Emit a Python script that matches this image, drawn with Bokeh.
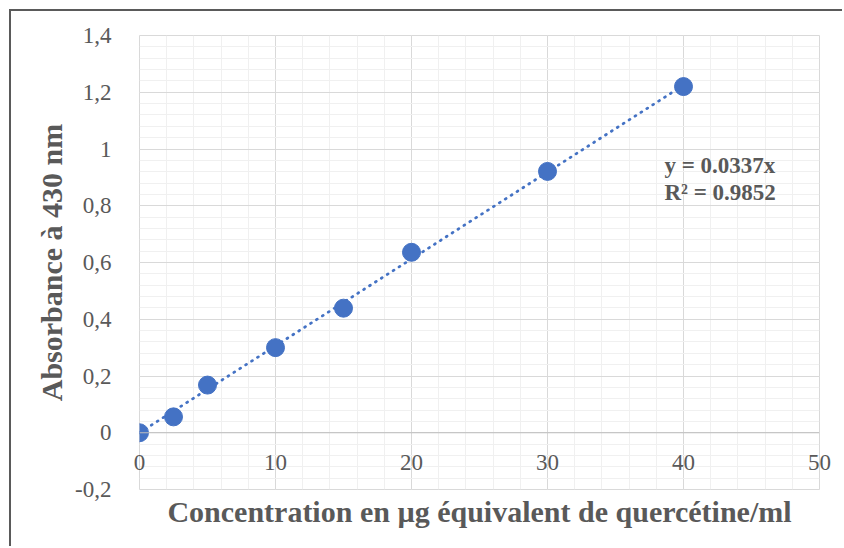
from bokeh.plotting import figure
from bokeh.models import (Range1d, FixedTicker, CustomJSTickFormatter,
                          Label, ColumnDataSource, Span)
from bokeh.embed import file_html
from bokeh.resources import INLINE

# ---- data ----
concentration = [0, 2.5, 5, 10, 15, 20, 30, 40]
absorbance = [0.0, 0.056, 0.168, 0.300, 0.439, 0.636, 0.921, 1.220]
x_ticks = [0, 10, 20, 30, 40, 50]
y_ticks = [-0.2, 0.0, 0.2, 0.4, 0.6, 0.8, 1.0, 1.2, 1.4]
equation_text = "y = 0.0337x"
r2_text = "R² = 0.9852"
x_title = "Concentration en µg équivalent de quercétine/ml"
y_title = "Absorbance à 430 nm"

# least squares fit through origin (trendline)
slope = sum(x * y for x, y in zip(concentration, absorbance)) / sum(x * x for x in concentration)
trend_x = [min(concentration), max(concentration)]
trend_y = [slope * v for v in trend_x]

# minor grid positions (5 subdivisions between major ticks)
x_minor = [x_ticks[0] + i * (x_ticks[1] - x_ticks[0]) / 5 for i in range(5 * (len(x_ticks) - 1) + 1)]
y_minor = [round(y_ticks[0] + i * (y_ticks[1] - y_ticks[0]) / 5, 4) for i in range(5 * (len(y_ticks) - 1) + 1)]

FONT = "Liberation Serif"
TXT = "#595959"
BLUE = "#4472C4"

p = figure(width=833, height=537, output_backend="svg", toolbar_location=None,
           x_range=Range1d(x_ticks[0], x_ticks[-1]), y_range=Range1d(y_ticks[0], y_ticks[-1]),
           min_border_left=128, min_border_right=25, min_border_top=24, min_border_bottom=59)
p.styles = {"border-top": "2px solid #5a5a5a", "border-left": "2px solid #5a5a5a",
            "margin-top": "9px", "margin-left": "9px"}
p.background_fill_color = "white"
p.border_fill_color = "white"
p.outline_line_color = "#D9D9D9"
p.outline_line_width = 1

xt = FixedTicker(ticks=x_ticks, minor_ticks=x_minor)
yt = FixedTicker(ticks=y_ticks, minor_ticks=y_minor)

# grids
p.xgrid.ticker = xt
p.ygrid.ticker = yt
for g in (p.xgrid[0], p.ygrid[0]):
    g.grid_line_color = "#D9D9D9"
    g.grid_line_width = 1
    g.minor_grid_line_color = "#F0F0F0"
    g.minor_grid_line_width = 1

# y axis
ya = p.yaxis[0]
ya.ticker = yt
ya.formatter = CustomJSTickFormatter(code="var v = Math.round(tick*10)/10; return v.toString().replace('.', ',');")
ya.axis_line_color = None
ya.major_tick_line_color = None
ya.minor_tick_line_color = None
ya.major_label_standoff = 22
ya.major_label_text_font = FONT
ya.major_label_text_font_size = "23px"
ya.major_label_text_color = TXT
ya.axis_label = y_title
ya.axis_label_text_font = FONT
ya.axis_label_text_font_size = "30px"
ya.axis_label_text_font_style = "bold"
ya.axis_label_text_color = TXT
ya.axis_label_standoff = 4

# horizontal axis line crossing at y = 0
p.add_layout(Span(location=0, dimension="width", line_color="#BFBFBF", line_width=1))

# x axis: tick labels lifted to sit just below the y = 0 line
xa = p.xaxis[0]
xa.ticker = xt
xa.axis_line_color = None
xa.major_tick_line_color = None
xa.minor_tick_line_color = None
xa.major_tick_out = 0
xa.minor_tick_out = 0
xa.major_label_standoff = -35
xa.major_label_text_font = FONT
xa.major_label_text_font_size = "23px"
xa.major_label_text_color = TXT
xa.axis_label = x_title
xa.axis_label_text_font = FONT
xa.axis_label_text_font_size = "30px"
xa.axis_label_text_font_style = "bold"
xa.axis_label_text_color = TXT
xa.axis_label_standoff = 22

# trendline
p.line(trend_x, trend_y, line_color=BLUE, line_width=2.75, line_dash="1 6", line_cap="round")

# points
src = ColumnDataSource(dict(x=concentration, y=absorbance))
p.scatter("x", "y", source=src, size=18, fill_color=BLUE, line_color=BLUE)

# equation labels
for txt, yy in ((equation_text, 0.941), (r2_text, 0.846)):
    p.add_layout(Label(x=38.6, y=yy, text=txt, text_font=FONT, text_font_size="23px",
                       text_font_style="bold", text_color=TXT, text_baseline="middle",
                       text_align="left"))

open("out.html", "w").write(file_html(p, INLINE))
